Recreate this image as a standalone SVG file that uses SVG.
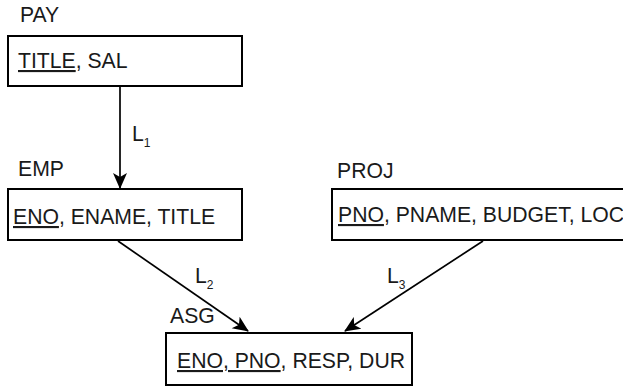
<svg xmlns="http://www.w3.org/2000/svg" width="623" height="387" viewBox="0 0 623 387">
<style>
text{font-family:"Liberation Sans",Arial,sans-serif;font-size:21.2px;fill:#1a1a1a}
.box{fill:#fff;stroke:#000;stroke-width:2}
.edge{fill:none;stroke:#000;stroke-width:1.7}
.u{text-decoration:underline}
.sub{font-size:12px}
</style>
<defs>
<marker id="ah" viewBox="0 0 16 16" refX="15" refY="8" markerWidth="16" markerHeight="16" markerUnits="userSpaceOnUse" orient="auto">
<path d="M0,1 L16,8 L0,15 L4,8 Z" fill="#000"/>
</marker>
</defs>
<rect width="623" height="387" fill="#fff"/>
<g id="connectors">
<line class="edge" x1="120" y1="87" x2="120" y2="188" marker-end="url(#ah)"/>
<line class="edge" x1="118" y1="241" x2="248" y2="331" marker-end="url(#ah)"/>
<line class="edge" x1="483" y1="241" x2="345" y2="331" marker-end="url(#ah)"/>
<text x="132" y="141">L<tspan class="sub" dx="0" dy="6">1</tspan></text>
<text x="195" y="283">L<tspan class="sub" dx="0" dy="6">2</tspan></text>
<text x="387" y="283">L<tspan class="sub" dx="0" dy="6">3</tspan></text>
</g>
<g id="PAY">
<text x="20" y="22">PAY</text>
<rect class="box" x="8" y="36" width="234" height="50"/>
<text x="18" y="68"><tspan class="u">TITLE</tspan>, SAL</text>
</g>
<g id="EMP">
<text x="18" y="176">EMP</text>
<rect class="box" x="8" y="189" width="234" height="51"/>
<text x="13" y="224"><tspan class="u">ENO</tspan>, ENAME, TITLE</text>
</g>
<g id="PROJ">
<text x="337" y="178">PROJ</text>
<rect class="box" x="332" y="189" width="310" height="51"/>
<text x="338" y="222"><tspan class="u">PNO</tspan>, PNAME, BUDGET, LOC</text>
</g>
<g id="ASG">
<text x="170" y="323">ASG</text>
<rect class="box" x="166" y="333" width="246" height="52"/>
<text x="177" y="368"><tspan class="u">ENO, PNO</tspan>, RESP, DUR</text>
</g>
</svg>
